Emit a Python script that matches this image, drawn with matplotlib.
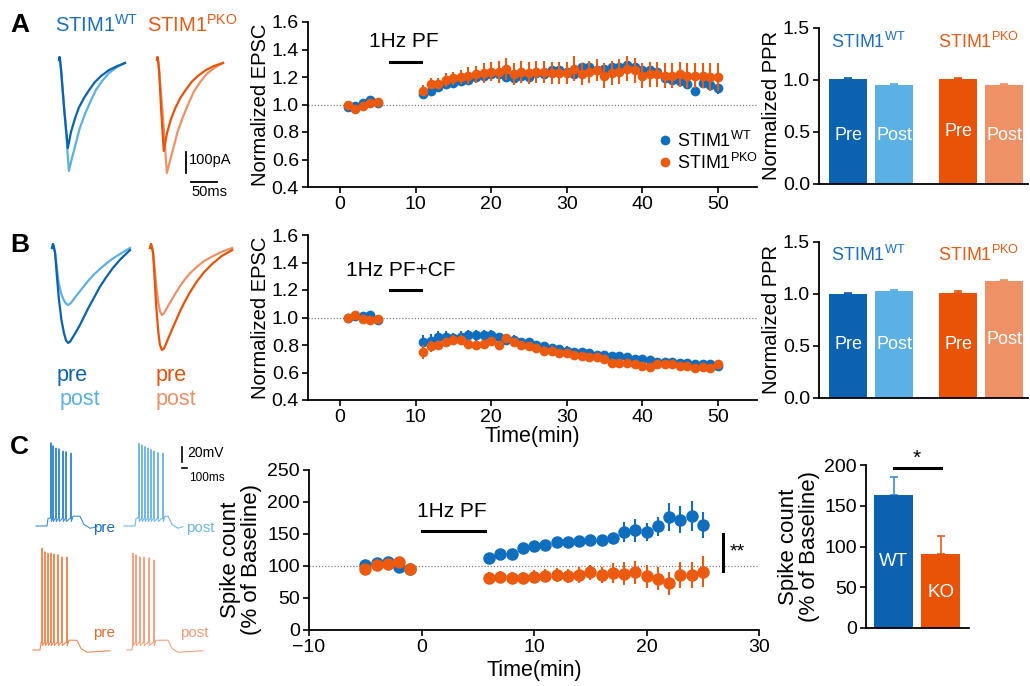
import numpy as np
import matplotlib
matplotlib.use("Agg")
import matplotlib.pyplot as plt
from matplotlib.lines import Line2D

plt.rcParams['font.family'] = ['Liberation Sans', 'DejaVu Sans']
plt.rcParams['mathtext.fontset'] = 'custom'
plt.rcParams['mathtext.rm'] = 'Liberation Sans'
plt.rcParams['axes.linewidth'] = 1.3

W, H = 1030, 686

# colours
BLUE = '#106ebe'
ORANGE = '#eb5a0f'
WT_PRE, WT_POST = '#0a62b0', '#5bb0e4'
KO_PRE, KO_POST = '#e85308', '#ef9166'

# ---------------- data: EPSC time courses (A: PF-LTP, B: PF+CF LTD) ----------------
epsc_time = [1, 2, 3, 4, 5] + list(range(11, 51))

a_wt = [0.98, 0.99, 1.01, 1.03, 1.01,
        1.08, 1.10, 1.13, 1.15, 1.16, 1.17, 1.18, 1.20, 1.21, 1.22,
        1.22, 1.20, 1.19, 1.21, 1.20, 1.23, 1.22, 1.25, 1.25, 1.24,
        1.22, 1.27, 1.27, 1.25, 1.26, 1.27, 1.27, 1.29, 1.27, 1.25,
        1.25, 1.24, 1.19, 1.18, 1.17, 1.15, 1.10, 1.16, 1.14, 1.12]
a_wt_err = [0.02, 0.02, 0.02, 0.02, 0.02,
            0.03, 0.03, 0.03, 0.03, 0.03, 0.03, 0.03, 0.03, 0.03, 0.03,
            0.03, 0.03, 0.03, 0.03, 0.03, 0.03, 0.03, 0.03, 0.03, 0.03,
            0.03, 0.03, 0.03, 0.03, 0.03, 0.03, 0.03, 0.03, 0.03, 0.03,
            0.03, 0.03, 0.04, 0.04, 0.04, 0.04, 0.04, 0.04, 0.04, 0.04]
a_ko = [1.00, 0.97, 0.99, 1.01, 1.02,
        1.10, 1.15, 1.15, 1.18, 1.19, 1.20, 1.21, 1.22, 1.23, 1.24,
        1.24, 1.26, 1.22, 1.24, 1.23, 1.24, 1.24, 1.23, 1.23, 1.23,
        1.26, 1.22, 1.24, 1.25, 1.21, 1.23, 1.24, 1.26, 1.25, 1.21,
        1.22, 1.22, 1.21, 1.21, 1.22, 1.21, 1.21, 1.21, 1.20, 1.20]
a_ko_err = [0.02, 0.02, 0.02, 0.02, 0.02,
            0.04, 0.04, 0.04, 0.05, 0.05, 0.05, 0.06, 0.06, 0.07, 0.07,
            0.08, 0.08, 0.08, 0.08, 0.08, 0.08, 0.08, 0.08, 0.08, 0.08,
            0.09, 0.08, 0.08, 0.08, 0.09, 0.09, 0.09, 0.09, 0.09, 0.09,
            0.09, 0.09, 0.09, 0.09, 0.09, 0.09, 0.09, 0.09, 0.10, 0.10]

b_wt = [1.00, 1.01, 1.01, 1.02, 0.98,
        0.82, 0.83, 0.86, 0.86, 0.85, 0.86, 0.87, 0.87, 0.87, 0.87,
        0.86, 0.84, 0.84, 0.82, 0.82, 0.80, 0.79, 0.78, 0.77, 0.76,
        0.75, 0.75, 0.74, 0.73, 0.73, 0.72, 0.72, 0.71, 0.70, 0.70,
        0.69, 0.68, 0.68, 0.68, 0.67, 0.67, 0.66, 0.66, 0.66, 0.65]
b_wt_err = [0.02, 0.02, 0.02, 0.02, 0.02,
            0.05, 0.05, 0.04, 0.04, 0.04, 0.04, 0.04, 0.04, 0.04, 0.04,
            0.03, 0.03, 0.03, 0.03, 0.03, 0.03, 0.03, 0.03, 0.03, 0.03,
            0.03, 0.03, 0.03, 0.03, 0.03, 0.03, 0.03, 0.03, 0.03, 0.03,
            0.02, 0.02, 0.02, 0.02, 0.02, 0.02, 0.02, 0.02, 0.02, 0.02]
b_ko = [1.00, 1.02, 0.99, 0.98, 0.99,
        0.75, 0.79, 0.80, 0.82, 0.84, 0.84, 0.81, 0.80, 0.81, 0.83,
        0.80, 0.85, 0.82, 0.80, 0.79, 0.78, 0.76, 0.76, 0.74, 0.74,
        0.73, 0.72, 0.71, 0.71, 0.70, 0.67, 0.67, 0.67, 0.66, 0.65,
        0.64, 0.66, 0.66, 0.66, 0.65, 0.65, 0.63, 0.64, 0.63, 0.66]
b_ko_err = [0.02, 0.02, 0.02, 0.02, 0.02,
            0.05, 0.04, 0.03, 0.03, 0.03, 0.03, 0.03, 0.03, 0.03, 0.03,
            0.03, 0.03, 0.03, 0.03, 0.03, 0.03, 0.03, 0.03, 0.03, 0.03,
            0.03, 0.03, 0.03, 0.03, 0.03, 0.03, 0.03, 0.03, 0.03, 0.03,
            0.03, 0.03, 0.03, 0.03, 0.03, 0.03, 0.03, 0.03, 0.03, 0.03]

# ---------------- data: PPR bars ----------------
ppr_labels = ['Pre', 'Post', 'Pre', 'Post']
ppr_a = [1.01, 0.955, 1.005, 0.95]
ppr_a_err = [0.008, 0.006, 0.01, 0.008]
ppr_b = [1.00, 1.03, 1.005, 1.125]
ppr_b_err = [0.008, 0.01, 0.02, 0.01]

# ---------------- data: spike count (C) ----------------
spk_time = [-5, -4, -3, -2, -1] + list(range(6, 26))
spk_wt = [101, 104, 106, 98, 96,
          112, 119, 119, 128, 131, 133, 137, 137, 139, 140,
          140, 143, 153, 156, 153, 162, 177, 172, 178, 164]
spk_wt_err = [3, 3, 3, 3, 3,
              4, 5, 6, 6, 6, 7, 8, 8, 8, 7,
              6, 6, 15, 18, 14, 15, 22, 21, 23, 20]
spk_ko = [96, 102, 103, 107, 95,
          82, 83, 82, 81, 83, 85, 86, 84, 86, 90,
          86, 89, 88, 90, 84, 80, 73, 86, 86, 91]
spk_ko_err = [3, 3, 3, 3, 3,
              8, 9, 9, 9, 10, 10, 11, 11, 12, 12,
              13, 15, 18, 18, 18, 18, 18, 20, 20, 24]
spk_bar_labels = ['WT', 'KO']
spk_bar = [163, 91]
spk_bar_err = [22, 22]

# ---------------- example traces ----------------
# A: EPSCs (ms, pA) pre / post 1Hz PF
a_t_pre = [0, 1, 2, 4, 10, 17, 23, 31, 38, 48, 58, 69, 81, 96, 112, 127]
a_t_post = [0, 1, 2, 4, 12, 19, 25, 33, 40, 50, 60, 71, 83, 96, 112, 127]
a_wt_pre_tr = [0, 14, 0, -48, -238, -419, -343, -276, -228, -181, -143, -105, -76, -48, -29, -14]
a_wt_post_tr = [0, 14, 0, -48, -286, -528, -466, -390, -324, -257, -200, -143, -100, -62, -33, -14]
a_ko_t_pre = [0, 1, 2, 4, 8, 13, 19, 27, 35, 45, 56, 67, 79, 94, 110, 127]
a_ko_pre_tr = [0, 14, 0, -48, -238, -433, -350, -280, -230, -180, -140, -103, -75, -48, -28, -14]
a_ko_post_tr = [0, 14, 0, -48, -290, -538, -480, -405, -338, -270, -210, -150, -105, -65, -35, -14]

# B: EPSCs pre / post 1Hz PF+CF
b_t = [0, 2, 4, 6, 9, 13, 18, 23, 27, 31, 35, 40, 46, 54, 62, 70, 80, 92, 104, 117, 133, 150]
b_wt_pre_tr = [0, 19, 0, -24, -120, -238, -340, -405, -440, -452, -445, -425, -400, -365,
               -325, -285, -240, -185, -140, -95, -50, -10]
b_wt_post_tr = [0, 19, 0, -24, -90, -167, -220, -250, -265, -271, -265, -250, -230, -205,
                -180, -155, -128, -100, -75, -50, -25, 0]
b_ko_t = [0, 2, 4, 6, 9, 12, 16, 19, 23, 27, 31, 36, 42, 50, 58, 67, 77, 90, 104, 120, 138, 158]
b_ko_pre_tr = [0, 19, 0, -24, -150, -280, -400, -460, -486, -478, -455, -425, -390, -345,
               -300, -255, -210, -160, -115, -75, -38, -10]
b_ko_post_tr = [0, 19, 0, -24, -100, -180, -260, -300, -319, -310, -292, -270, -245, -212,
                -180, -150, -120, -90, -62, -40, -18, 0]

# C: spike times (ms from trace start) and peak heights (mV above baseline)
c_wt_pre_spk = [300, 340, 400, 460, 540, 600, 700]
c_wt_pre_pk = [111, 107, 104, 103, 100, 99, 97]
c_wt_post_spk = [300, 360, 420, 480, 540, 600, 680, 780]
c_wt_post_pk = [110, 108, 106, 104, 102, 100, 98, 97]
c_ko_pre_spk = [180, 240, 300, 360, 420, 500, 580, 680]
c_ko_pre_pk = [136, 131, 129, 129, 128, 127, 124, 124]
c_ko_post_spk = [120, 180, 260, 340, 440, 540]
c_ko_post_pk = [129, 127, 124, 124, 123, 120]

fig = plt.figure(figsize=(W / 100, H / 100), dpi=100)

TICK = 14
LAB = 14.5


def px_axes(x0, y0, x1, y1):
    return fig.add_axes([x0 / W, 1 - y1 / H, (x1 - x0) / W, (y1 - y0) / H])


def style(ax):
    ax.spines['top'].set_visible(False)
    ax.spines['right'].set_visible(False)
    ax.tick_params(direction='out', length=4.5, width=1.2, labelsize=TICK, pad=2)


def timecourse(ax, t, wt, wte, ko, koe, ms):
    ax.errorbar(t, wt, yerr=wte, fmt='o', color=BLUE, ms=ms, elinewidth=1.5,
                capsize=0, mew=0, zorder=3)
    ax.errorbar(t, ko, yerr=koe, fmt='o', color=ORANGE, ms=ms, elinewidth=1.5,
                capsize=0, mew=0, zorder=4)


# ---- A time course ----
axA = px_axes(308, 22, 757, 187)
style(axA)
timecourse(axA, epsc_time, a_wt, a_wt_err, a_ko, a_ko_err, 7)
axA.axhline(1.0, color='0.5', ls=(0, (1, 1.5)), lw=0.9, zorder=1)
axA.set_xlim(-4.23, 55.2)
axA.set_ylim(0.4, 1.6)
axA.set_xticks([0, 10, 20, 30, 40, 50])
axA.set_yticks([0.4, 0.6, 0.8, 1.0, 1.2, 1.4, 1.6])
axA.yaxis.set_major_formatter(lambda v, p: f'{v:.1f}')
axA.set_ylabel('Normalized EPSC', fontsize=LAB, labelpad=1)
axA.text(3.9, 1.455, '1Hz PF', fontsize=15, va='center')
axA.plot([6.6, 10.7], [1.31, 1.31], color='k', lw=2.2)
handles = [Line2D([], [], marker='o', ls='', color=BLUE, ms=7, mew=0),
           Line2D([], [], marker='o', ls='', color=ORANGE, ms=7, mew=0)]
axA.legend(handles, [r'STIM1$^{\rm WT}$', r'STIM1$^{\rm PKO}$'], loc='center left',
           bbox_to_anchor=(0.75, 0.215), frameon=False, fontsize=13,
           handletextpad=0.1, labelspacing=0.1, handlelength=1.2, borderpad=0)

# ---- B time course ----
axB = px_axes(308, 235, 757, 400)
style(axB)
timecourse(axB, epsc_time, b_wt, b_wt_err, b_ko, b_ko_err, 7)
axB.axhline(1.0, color='0.5', ls=(0, (1, 1.5)), lw=0.9, zorder=1)
axB.set_xlim(-4.23, 55.2)
axB.set_ylim(0.4, 1.6)
axB.set_xticks([0, 10, 20, 30, 40, 50])
axB.set_yticks([0.4, 0.6, 0.8, 1.0, 1.2, 1.4, 1.6])
axB.yaxis.set_major_formatter(lambda v, p: f'{v:.1f}')
axB.set_ylabel('Normalized EPSC', fontsize=LAB, labelpad=1)
axB.set_xlabel('Time(min)', fontsize=15.5, labelpad=0)
axB.text(0.8, 1.345, '1Hz PF+CF', fontsize=15, va='center')
axB.plot([6.6, 10.7], [1.2, 1.2], color='k', lw=2.2)

# ---- C time course ----
axC = px_axes(309, 470, 759, 630)
style(axC)
timecourse(axC, spk_time, spk_wt, spk_wt_err, spk_ko, spk_ko_err, 9)
axC.axhline(100, color='0.5', ls=(0, (1, 1.5)), lw=0.9, zorder=1)
axC.set_xlim(-10, 30)
axC.set_ylim(0, 250)
axC.set_xticks([-10, 0, 10, 20, 30])
axC.set_yticks([0, 50, 100, 150, 200, 250])
axC.set_ylabel('Spike count\n(% of Baseline)', fontsize=16, linespacing=1.0)
axC.yaxis.set_label_coords(-0.105, 0.44)
axC.set_xlabel('Time(min)', fontsize=15.5, labelpad=3)
axC.text(-0.4, 185, '1Hz PF', fontsize=15, va='center')
axC.plot([0, 5.6], [155, 155], color='k', lw=2.2)
axC.plot([26.8, 26.8], [92, 150], color='k', lw=2.2, clip_on=False)
axC.text(27.4, 122, '**', fontsize=14, va='center')

# ---- PPR bars ----
bar_x = [0, 1, 2.39, 3.39]
bar_cols = [WT_PRE, WT_POST, KO_PRE, KO_POST]


def ppr(ax, vals, errs, ytxt, ylab):
    style(ax)
    ax.bar(bar_x, vals, width=0.83, color=bar_cols, zorder=2)
    for x, v, e, c in zip(bar_x, vals, errs, bar_cols):
        ax.errorbar(x, v, yerr=[[0], [e]], color=c, capsize=3, elinewidth=1.2,
                    capthick=1.2, zorder=1)
    for x, lab, y in zip(bar_x, ppr_labels, ytxt):
        ax.text(x, y, lab, color='white', fontsize=13, ha='center', va='center', zorder=3)
    ax.set_xlim(-0.63, 3.91)
    ax.set_ylim(0, 1.5)
    ax.set_yticks([0.0, 0.5, 1.0, 1.5])
    ax.yaxis.set_major_formatter(lambda v, p: f'{v:.1f}')
    ax.set_xticks([])
    ax.set_ylabel('Normalized PPR', fontsize=LAB, labelpad=1)
    ax.text(-0.36, ylab, r'STIM1$^{\rm WT}$', color='#1a6fc4', fontsize=13, va='center')
    ax.text(1.96, ylab, r'STIM1$^{\rm PKO}$', color='#ea5a14', fontsize=13, va='center',
            clip_on=False)


axAP = px_axes(819, 28, 1028, 184)
ppr(axAP, ppr_a, ppr_a_err, [0.47, 0.47, 0.5, 0.47], 1.365)
axBP = px_axes(819, 242, 1028, 398)
ppr(axBP, ppr_b, ppr_b_err, [0.51, 0.51, 0.51, 0.56], 1.375)

# ---- spike count bars ----
axCP = px_axes(866, 465, 969, 628)
style(axCP)
axCP.bar([0, 1], spk_bar, width=0.83, color=[WT_PRE, KO_PRE], zorder=2)
for x, v, e, c in zip([0, 1], spk_bar, spk_bar_err, ['#3a8fd6', ORANGE]):
    axCP.errorbar(x, v, yerr=[[0], [e]], color=c, capsize=3, elinewidth=1.2,
                  capthick=1.2, zorder=1)
axCP.text(0, 81, spk_bar_labels[0], color='white', fontsize=13.5, ha='center', va='center')
axCP.text(1, 43, spk_bar_labels[1], color='white', fontsize=13.5, ha='center', va='center')
axCP.set_xlim(-0.585, 1.6)
axCP.set_ylim(0, 200)
axCP.set_yticks([0, 50, 100, 150, 200])
axCP.set_xticks([])
axCP.set_ylabel('Spike count\n(% of Baseline)', fontsize=16, labelpad=3, linespacing=1.0)
axCP.plot([0, 1], [196, 196], color='k', lw=2.2, clip_on=False)
axCP.text(0.5, 208, '*', fontsize=15, ha='center', va='center')

# ---- example traces ----
MS_PX, PA_PX = 1.923, 4.76

axTA = px_axes(30, 40, 245, 200)
axTA.axis('off')
axTA.set_xlim(0, 215 * MS_PX)
axTA.set_ylim(-140 * PA_PX, 20 * PA_PX)
t0w, t0k = 29 * MS_PX, 127 * MS_PX
axTA.plot(np.add(a_t_post, t0w), a_wt_post_tr, color=WT_POST, lw=1.6)
axTA.plot(np.add(a_t_pre, t0w), a_wt_pre_tr, color=WT_PRE, lw=1.6)
axTA.plot(np.add(a_t_post, t0k), a_ko_post_tr, color=KO_POST, lw=1.6)
axTA.plot(np.add(a_ko_t_pre, t0k), a_ko_pre_tr, color=KO_PRE, lw=1.6)
axTA.plot([300, 300], [-438, -538], color='k', lw=1.3)
axTA.plot([310, 360], [-581, -581], color='k', lw=1.3)
axTA.text(306, -475, '100pA', fontsize=10.5, va='center')
axTA.text(311, -630, '50ms', fontsize=10.5, va='center')

axTB = px_axes(30, 230, 245, 370)
axTB.axis('off')
axTB.set_xlim(0, 215 * MS_PX)
axTB.set_ylim(-122 * PA_PX, 18 * PA_PX)
t0w, t0k = 22 * MS_PX, 120 * MS_PX
axTB.plot(np.add(b_t, t0w), b_wt_post_tr, color=WT_POST, lw=1.6)
axTB.plot(np.add(b_t, t0w), b_wt_pre_tr, color=WT_PRE, lw=1.6)
axTB.plot(np.add(b_ko_t, t0k), b_ko_post_tr, color=KO_POST, lw=1.6)
axTB.plot(np.add(b_ko_t, t0k), b_ko_pre_tr, color=KO_PRE, lw=1.6)
fig.text(57 / W, 1 - 375 / H, 'pre', color=WT_PRE, fontsize=15.5, va='center')
fig.text(60 / W, 1 - 399 / H, 'post', color=WT_POST, fontsize=15.5, va='center')
fig.text(156 / W, 1 - 375 / H, 'pre', color=KO_PRE, fontsize=15.5, va='center')
fig.text(156 / W, 1 - 399 / H, 'post', color=KO_POST, fontsize=15.5, va='center')

MS_C, MV_C = 20.0, 1.333
axTC = px_axes(20, 430, 210, 670)
axTC.axis('off')
axTC.set_xlim(0, 190 * MS_C)
axTC.set_ylim(-20 * MV_C, 220 * MV_C)


def spike_trace(t0, v0, on, off, end, spikes, peaks):
    t = [t0, t0 + on, t0 + on + 20]
    v = [v0, v0, v0 + 10]
    for s, p in zip(spikes, peaks):
        t += [t0 + s - 4, t0 + s, t0 + s + 6]
        v += [v0 + 11, v0 + p, v0 + 6]
    t += [t0 + spikes[-1] + 40, t0 + off, t0 + off + 80, t0 + off + 200, t0 + end]
    v += [v0 + 13, v0 + 13, v0 + 2, v0 - 3, v0 - 1]
    return t, v


vb = 124 * MV_C
axTC.plot(*spike_trace(16 * MS_C, vb, 220, 880, 1220, c_wt_pre_spk, c_wt_pre_pk),
          color='#3d8fd4', lw=0.8)
axTC.plot(*spike_trace(104 * MS_C, vb, 220, 880, 1180, c_wt_post_spk, c_wt_post_pk),
          color='#73b9e8', lw=0.8)
axTC.plot(*spike_trace(13 * MS_C, 0, 140, 880, 1540, c_ko_pre_spk, c_ko_pre_pk),
          color='#f28a55', lw=0.8)
axTC.plot(*spike_trace(107 * MS_C, 0, 100, 820, 1520, c_ko_post_spk, c_ko_post_pk),
          color='#f5a47f', lw=0.8)
axTC.plot([162 * MS_C] * 2, [188 * MV_C, 203 * MV_C], color='k', lw=1.2)
axTC.plot([162 * MS_C, 167 * MS_C], [182 * MV_C] * 2, color='k', lw=1.2)
fig.text(187 / W, 1 - 453 / H, '20mV', fontsize=10, va='center')
fig.text(189 / W, 1 - 478 / H, '100ms', fontsize=8.5, va='center')
fig.text(93 / W, 1 - 528 / H, 'pre', color='#1d6fbf', fontsize=11, va='center')
fig.text(186 / W, 1 - 528 / H, 'post', color='#6cb6e6', fontsize=11, va='center')
fig.text(93 / W, 1 - 633 / H, 'pre', color='#ee6a2a', fontsize=11, va='center')
fig.text(180 / W, 1 - 633 / H, 'post', color='#f29b78', fontsize=11, va='center')

# group titles and panel letters
fig.text(55 / W, 1 - 25 / H, r'STIM1$^{\rm WT}$', color='#1a6fc4', fontsize=14.5, va='center')
fig.text(147 / W, 1 - 25 / H, r'STIM1$^{\rm PKO}$', color='#ea5a14', fontsize=14.5, va='center')
for lab, y in zip(['A', 'B', 'C'], [25, 245, 447]):
    fig.text(10 / W, 1 - y / H, lab, fontsize=19, fontweight='bold', va='center')

fig.savefig('out.png', dpi=100)
